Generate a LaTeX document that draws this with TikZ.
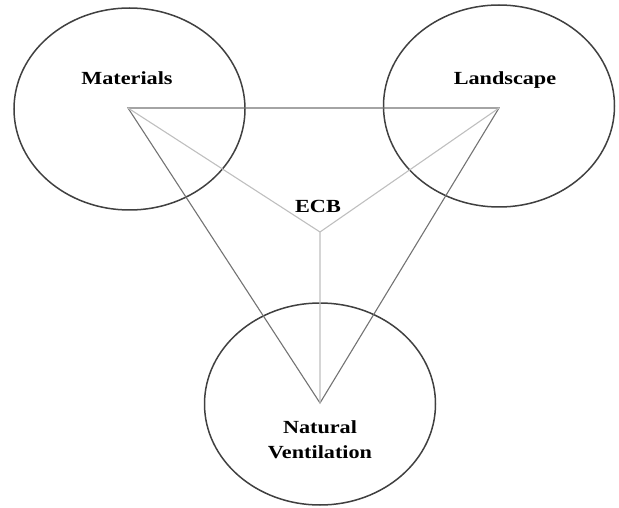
\documentclass[tikz,border=0pt]{standalone}
\usepackage{fontspec}
\setmainfont{Liberation Serif}
\usepackage{tikz}
\usetikzlibrary{shapes.geometric}

\begin{document}
\begin{tikzpicture}[x=1pt, y=-1pt,
    ring/.style={shape=ellipse, draw=black!75, line width=1.5pt, inner sep=0pt,
      minimum width=231pt, minimum height=202pt},
    word/.style={font=\bfseries\fontsize{18.5}{25}\selectfont, xscale=1.2, align=center, inner sep=0pt},
    side/.style={draw=black!55, line width=1.1pt},
    spoke/.style={draw=black!25, line width=1.1pt}]
    \useasboundingbox (0,0) rectangle (619,508);

    \node[ring] (mat) at (129.5,109) {};
    \node[ring] (land) at (499,106) {};
    \node[ring] (vent) at (320,404) {};

    \coordinate (A) at (128,108);
    \coordinate (B) at (499,108);
    \coordinate (C) at (320,403);
    \coordinate (E) at (320,232);

    \draw[side] (A) -- (B) -- (C) -- cycle;
    \draw[spoke] (A) -- (E) (B) -- (E) (C) -- (E);

    \node[word] (matl) at (127,78) {Materials};
    \node[word] (landl) at (505,80) {Landscape};
    \node[word] (ecb) at (318,206) {ECB};
    \node[word] (ventl) at (320,440) {Natural\\Ventilation};
  \end{tikzpicture}
\end{document}
